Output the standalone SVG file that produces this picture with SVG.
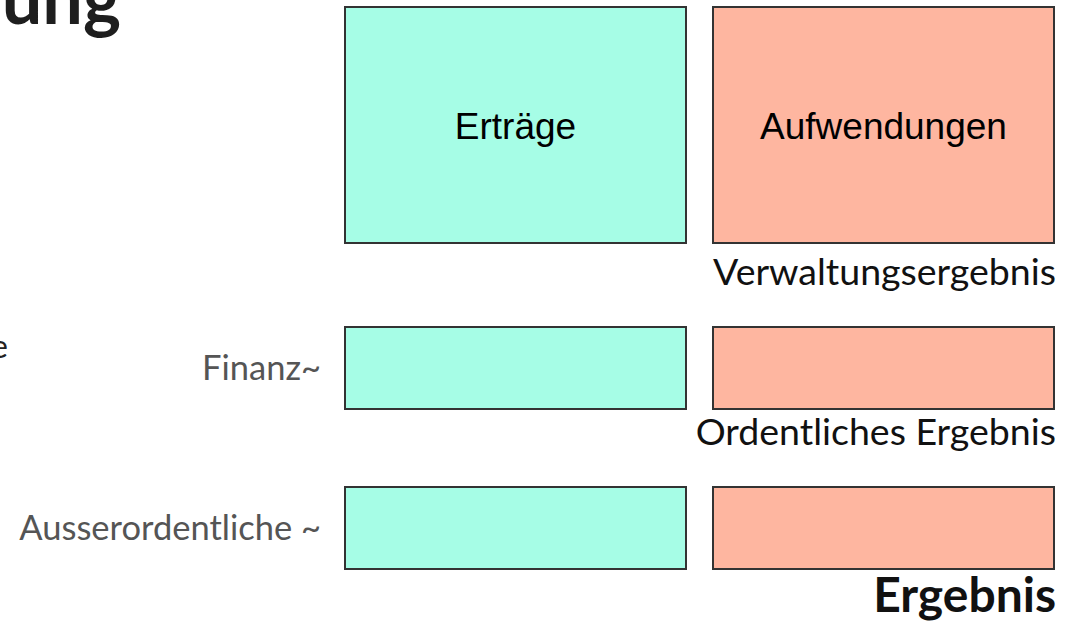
<svg xmlns="http://www.w3.org/2000/svg" width="1068" height="624" viewBox="0 0 1068 624">
<style>
.in{fill:#a6fde6;stroke:#333;stroke-width:2}
.out{fill:#feb6a0;stroke:#333;stroke-width:2}
.box{font-family:"Liberation Sans",Arial,sans-serif;font-size:37px;fill:#000;text-anchor:middle}
.res{font-family:Lato,"Noto Sans",sans-serif;font-size:37.5px;fill:#111;text-anchor:end}
.side{font-family:Lato,"Noto Sans",sans-serif;font-size:34.5px;fill:#555;text-anchor:end}
</style>
<rect width="1068" height="624" fill="#fff"/>
<text x="121" y="24" font-family="Lato,'Noto Sans',sans-serif" font-weight="bold" font-size="72" fill="#1e1e1e" text-anchor="end">ung</text>
<text x="8" y="358" font-family="Lato,'Noto Sans',sans-serif" font-size="32" fill="#222" text-anchor="end">e</text>
<g id="connectors"></g>
<g id="ertraege"><rect class="in" x="345" y="7" width="341" height="236"/><text class="box" x="515.5" y="139">Erträge</text></g>
<g id="aufwendungen"><rect class="out" x="713" y="7" width="341" height="236"/><text class="box" x="883.5" y="139">Aufwendungen</text></g>
<g id="verwaltungsergebnis"><text class="res" x="1056" y="285">Verwaltungsergebnis</text></g>
<g id="finanz-label"><text class="side" x="321" y="380">Finanz~</text></g>
<g id="finanz-ertrag"><rect class="in" x="345" y="327" width="341" height="82"/></g>
<g id="finanz-aufwand"><rect class="out" x="713" y="327" width="341" height="82"/></g>
<g id="ordentliches"><text class="res" x="1056" y="445">Ordentliches Ergebnis</text></g>
<g id="ao-label"><text class="side" x="321" y="540">Ausserordentliche ~</text></g>
<g id="ao-ertrag"><rect class="in" x="345" y="487" width="341" height="82"/></g>
<g id="ao-aufwand"><rect class="out" x="713" y="487" width="341" height="82"/></g>
<g id="ergebnis"><text class="res" x="1056" y="612" style="font-weight:bold;font-size:48px;fill:#111">Ergebnis</text></g>
</svg>
